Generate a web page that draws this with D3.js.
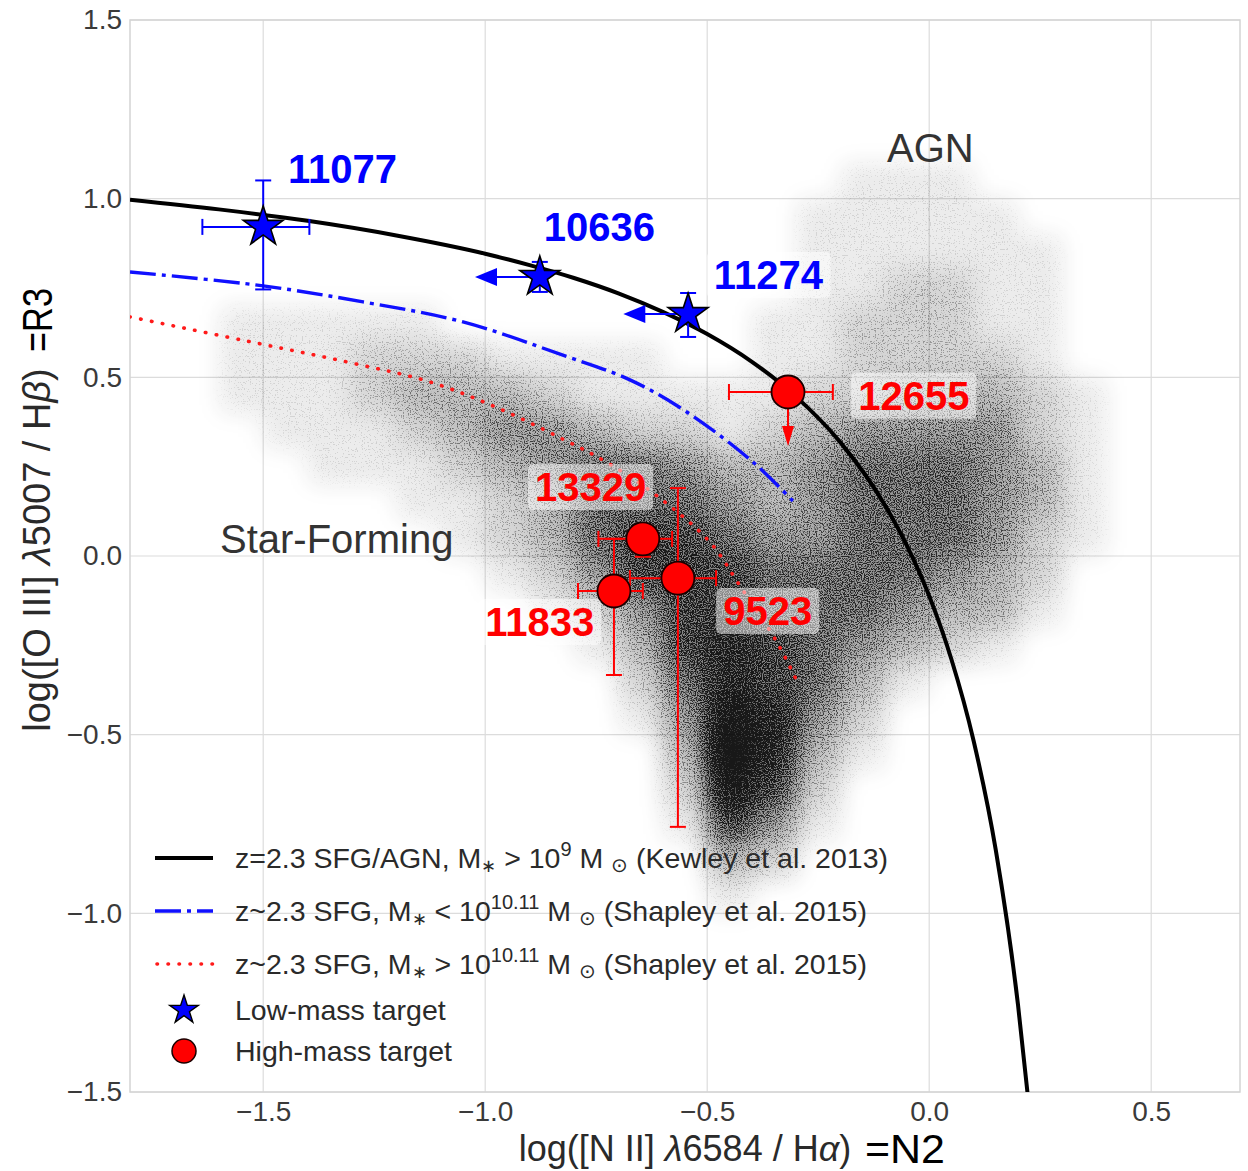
<!DOCTYPE html>
<html>
<head>
<meta charset="utf-8">
<script src="https://cdn.jsdelivr.net/npm/d3@7"></script>
<style>
body { margin: 0; background: #fff; }
text { font-family: "Liberation Sans", Arial, Helvetica, sans-serif; }
</style>
</head>
<body>
<svg id="chart" width="1248" height="1171"></svg>
<script>
var xTicks = [-1.5, -1.0, -0.5, 0.0, 0.5];
var yTicks = [-1.5, -1.0, -0.5, 0.0, 0.5, 1.0, 1.5];

// Kewley et al. 2013 boundary at z=2.3
var kewleyN2 = [-1.8, -1.6, -1.4, -1.2, -1.0, -0.9, -0.8, -0.7, -0.6, -0.5, -0.4, -0.3, -0.2, -0.1, -0.05, 0.0, 0.05, 0.1, 0.15, 0.2, 0.222];
var kewleyR3 = [0.997, 0.970, 0.938, 0.897, 0.846, 0.814, 0.778, 0.735, 0.683, 0.621, 0.544, 0.446, 0.318, 0.143, 0.028, -0.112, -0.289, -0.517, -0.823, -1.256, -1.509];

// Shapley et al. 2015, low mass (dash-dot)
var shapLowN2 = [-1.8, -1.5, -1.275, -1.05, -0.825, -0.674, -0.546, -0.397, -0.307];
var shapLowR3 = [0.795, 0.756, 0.711, 0.655, 0.562, 0.493, 0.403, 0.263, 0.154];

// Shapley et al. 2015, high mass (dotted)
var shapHighN2 = [-1.8, -1.5, -1.3, -1.124, -0.973, -0.825, -0.726, -0.613, -0.494, -0.426, -0.343, -0.298];
var shapHighR3 = [0.669, 0.592, 0.540, 0.487, 0.415, 0.327, 0.262, 0.168, 0.039, -0.084, -0.241, -0.350];

// low-mass targets (stars), x is an upper limit for 10636 and 11274
var lowNames = ["11077", "10636", "11274"];
var lowN2 = [-1.50, -0.877, -0.543];
var lowR3 = [0.921, 0.781, 0.677];
var lowN2ErrLo = [0.137, 0, 0];
var lowN2ErrHi = [0.104, 0, 0];
var lowR3ErrLo = [0.175, 0.042, 0.064];
var lowR3ErrHi = [0.130, 0.042, 0.059];
var lowN2Limit = [false, true, true];
var lowLabelN2 = [-1.444, -0.868, -0.485];
var lowLabelR3 = [1.044, 0.882, 0.747];

// high-mass targets (circles), y is an upper limit for 12655
var highNames = ["12655", "13329", "9523", "11833"];
var highN2 = [-0.318, -0.645, -0.566, -0.710];
var highR3 = [0.459, 0.048, -0.062, -0.098];
var highN2ErrLo = [0.133, 0.100, 0.108, 0.081];
var highN2ErrHi = [0.101, 0.066, 0.086, 0.065];
var highR3ErrLo = [0, 0.050, 0.696, 0.235];
var highR3ErrHi = [0, 0.035, 0.252, 0.146];
var highR3Limit = [true, false, false, false];
var highLabelN2 = [-0.160, -0.888, -0.464, -1.000];
var highLabelR3 = [0.409, 0.154, -0.193, -0.224];

// background galaxy cloud: relative density 0-9 per 0.1 x 0.1 cell
// first row is R3 in [1.0, 1.1], first column N2 in [-1.6, -1.5]
var cloudN2Start = -1.6, cloudR3Start = 1.1, cloudStep = 0.1;
var cloudRows = [
    "00000000000000111000",
    "00000000000001111100",
    "00000000000001111110",
    "00000000000001122110",
    "11111000000011222110",
    "11122211110011222210",
    "11123332111112233321",
    "01112344322123444421",
    "00111234554334555431",
    "00001123555434555431",
    "00000123566544555421",
    "00000012466655554320",
    "00000001246655543310",
    "00000000136765432100",
    "00000000025765310000",
    "00000000014874200000",
    "00000000003973100000",
    "00000000002862000000",
    "00000000001641000000",
    "00000000000320000000",
    "00000000000100000000"
];

var svg = d3.select('#chart');
var plotLeft = 130, plotRight = 1240, plotTop = 20, plotBottom = 1092;

var x = d3.scaleLinear().domain([-1.8, 0.7]).range([plotLeft, plotRight]);
var y = d3.scaleLinear().domain([-1.5, 1.5]).range([plotBottom, plotTop]);

var defs = svg.append('defs');
defs.append('clipPath').attr('id', 'plotClip')
    .append('rect').attr('x', plotLeft).attr('y', plotTop)
    .attr('width', plotRight - plotLeft).attr('height', plotBottom - plotTop);

// blurred density, dithered against a noise field so it reads as dots
var grain = defs.append('filter').attr('id', 'grain')
    .attr('filterUnits', 'userSpaceOnUse').attr('color-interpolation-filters', 'sRGB')
    .attr('x', plotLeft).attr('y', plotTop).attr('width', plotRight - plotLeft).attr('height', plotBottom - plotTop);
grain.append('feGaussianBlur').attr('in', 'SourceGraphic').attr('stdDeviation', 13).attr('result', 'blur');
grain.append('feTurbulence').attr('type', 'fractalNoise').attr('baseFrequency', 0.85)
    .attr('numOctaves', 1).attr('seed', 11).attr('result', 'noise');
grain.append('feColorMatrix').attr('in', 'noise').attr('type', 'matrix')
    .attr('values', '0 0 0 0 0  0 0 0 0 0  0 0 0 0 0  3.4 0 0 0 -1.2').attr('result', 'noiseA');
grain.append('feComposite').attr('in', 'blur').attr('in2', 'noiseA').attr('operator', 'arithmetic')
    .attr('k1', 0).attr('k2', 2.8).attr('k3', 2.2).attr('k4', -2.3).attr('result', 'dots');
grain.append('feComposite').attr('in', 'dots').attr('in2', 'blur').attr('operator', 'arithmetic')
    .attr('k1', 0).attr('k2', 0.5).attr('k3', 0.8).attr('k4', 0);

// grid
svg.append('g').selectAll('line').data(xTicks).enter().append('line')
    .attr('x1', function(d) { return x(d); }).attr('x2', function(d) { return x(d); })
    .attr('y1', plotTop).attr('y2', plotBottom)
    .attr('stroke', '#dcdcdc').attr('stroke-width', 1.2);
svg.append('g').selectAll('line').data(yTicks).enter().append('line')
    .attr('y1', function(d) { return y(d); }).attr('y2', function(d) { return y(d); })
    .attr('x1', plotLeft).attr('x2', plotRight)
    .attr('stroke', '#dcdcdc').attr('stroke-width', 1.2);
svg.append('rect').attr('x', plotLeft).attr('y', plotTop)
    .attr('width', plotRight - plotLeft).attr('height', plotBottom - plotTop)
    .attr('fill', 'none').attr('stroke', '#d4d4d4').attr('stroke-width', 1.5);

// cloud
var cells = [];
cloudRows.forEach(function(row, j)
{
    for(var i = 0; i < row.length; i++)
    {
        var v = +row[i];
        if(v > 0) cells.push({n2: cloudN2Start + i * cloudStep, r3: cloudR3Start - j * cloudStep, v: v});
    }
});
var cellW = x(cloudStep) - x(0), cellH = y(0) - y(cloudStep);
svg.append('g').attr('clip-path', 'url(#plotClip)')
  .append('g').attr('filter', 'url(#grain)').attr('opacity', 0.9)
    .selectAll('rect').data(cells).enter().append('rect')
    .attr('x', function(d) { return x(d.n2); })
    .attr('y', function(d) { return y(d.r3); })
    .attr('width', cellW + 0.5).attr('height', cellH + 0.5)
    .attr('fill', '#000')
    .attr('fill-opacity', function(d) { return Math.min(1, d.v / 9); });

// curves
var line = d3.line().x(function(d) { return x(d[0]); }).y(function(d) { return y(d[1]); });
var curves = svg.append('g').attr('clip-path', 'url(#plotClip)');
curves.append('path').datum(d3.zip(shapHighN2, shapHighR3))
    .attr('d', line.curve(d3.curveCatmullRom))
    .attr('fill', 'none').attr('stroke', '#ff1a1a').attr('stroke-width', 3.6)
    .attr('stroke-linecap', 'round').attr('stroke-dasharray', '0.5,10.5');
curves.append('path').datum(d3.zip(shapLowN2, shapLowR3))
    .attr('d', line.curve(d3.curveCatmullRom))
    .attr('fill', 'none').attr('stroke', '#1010ff').attr('stroke-width', 3.4)
    .attr('stroke-dasharray', '26,6,4,6');
curves.append('path').datum(d3.zip(kewleyN2, kewleyR3))
    .attr('d', line.curve(d3.curveMonotoneX))
    .attr('fill', 'none').attr('stroke', '#000').attr('stroke-width', 4);

// axes text
var xAxis = d3.axisBottom(x).tickValues(xTicks).tickFormat(d3.format('.1f')).tickSize(0).tickPadding(9);
var yAxis = d3.axisLeft(y).tickValues(yTicks).tickFormat(d3.format('.1f')).tickSize(0).tickPadding(8);
var gx = svg.append('g').attr('transform', 'translate(0,' + plotBottom + ')').call(xAxis);
var gy = svg.append('g').attr('transform', 'translate(' + plotLeft + ',0)').call(yAxis);
[gx, gy].forEach(function(g)
{
    g.select('.domain').remove();
    g.selectAll('text').attr('font-size', 28).attr('fill', '#3a3a3a')
        .attr('font-family', '"Liberation Sans", Arial, sans-serif');
});

var xl = svg.append('text').attr('x', (plotLeft + plotRight) / 2).attr('y', 1161)
    .attr('text-anchor', 'middle').attr('font-size', 36).attr('fill', '#2a2a2a');
xl.append('tspan').text('log([N II] ');
xl.append('tspan').attr('font-style', 'italic').text('λ');
xl.append('tspan').text('6584 / H');
xl.append('tspan').attr('font-style', 'italic').text('α');
xl.append('tspan').text(')');
svg.append('text').attr('x', 865).attr('y', 1163).attr('font-size', 40).attr('fill', '#000')
    .attr('textLength', 80).attr('lengthAdjust', 'spacingAndGlyphs').text('=N2');

var yl = svg.append('text').attr('transform', 'translate(50,550) rotate(-90)')
    .attr('text-anchor', 'middle').attr('font-size', 38).attr('fill', '#2a2a2a');
yl.append('tspan').text('log([O III] ');
yl.append('tspan').attr('font-style', 'italic').text('λ');
yl.append('tspan').text('5007 / H');
yl.append('tspan').attr('font-style', 'italic').text('β');
yl.append('tspan').text(')');
svg.append('text').attr('transform', 'translate(52,352) rotate(-90)').attr('font-size', 42).attr('fill', '#000')
    .attr('textLength', 64).attr('lengthAdjust', 'spacingAndGlyphs').text('=R3');

// region names
svg.append('text').attr('x', 887).attr('y', 162).attr('font-size', 40).attr('fill', '#333').text('AGN');
svg.append('text').attr('x', 220).attr('y', 553).attr('font-size', 40).attr('fill', '#333').text('Star-Forming');

// labels with translucent boxes
function addLabel(g, txt, n2, r3, color)
{
    var lg = g.append('g');
    var box = lg.append('rect');
    var t = lg.append('text').attr('x', x(n2)).attr('y', y(r3))
        .attr('font-size', 40).attr('font-weight', 'bold').attr('fill', color).text(txt);
    var bb = t.node().getBBox();
    box.attr('x', bb.x - 7).attr('y', bb.y - 1).attr('width', bb.width + 14).attr('height', bb.height + 2)
        .attr('rx', 5).attr('fill', '#fff').attr('fill-opacity', 0.5);
}

function errBars(g, cx, cy, xlo, xhi, ylo, yhi, color)
{
    var cap = 8;
    if(xlo > 0 || xhi > 0)
    {
        g.append('line').attr('x1', x(cx - xlo)).attr('x2', x(cx + xhi)).attr('y1', y(cy)).attr('y2', y(cy));
        g.append('line').attr('x1', x(cx - xlo)).attr('x2', x(cx - xlo)).attr('y1', y(cy) - cap).attr('y2', y(cy) + cap);
        g.append('line').attr('x1', x(cx + xhi)).attr('x2', x(cx + xhi)).attr('y1', y(cy) - cap).attr('y2', y(cy) + cap);
    }
    if(ylo > 0 || yhi > 0)
    {
        g.append('line').attr('x1', x(cx)).attr('x2', x(cx)).attr('y1', y(cy - ylo)).attr('y2', y(cy + yhi));
        g.append('line').attr('x1', x(cx) - cap).attr('x2', x(cx) + cap).attr('y1', y(cy - ylo)).attr('y2', y(cy - ylo));
        g.append('line').attr('x1', x(cx) - cap).attr('x2', x(cx) + cap).attr('y1', y(cy + yhi)).attr('y2', y(cy + yhi));
    }
    g.selectAll('line').attr('stroke', color).attr('stroke-width', 2);
}

var arrowLen = 0.146;
var starSym = d3.symbol().type(d3.symbolStar).size(21 * 21 / 0.8908);
var marks = svg.append('g');

// high-mass circles
highNames.forEach(function(name, i)
{
    var g = marks.append('g');
    errBars(g, highN2[i], highR3[i], highN2ErrLo[i], highN2ErrHi[i], highR3ErrLo[i], highR3ErrHi[i], '#ff0000');
    if(highR3Limit[i])
    {
        var px = x(highN2[i]), tip = y(highR3[i] - 0.151);
        g.append('line').attr('x1', px).attr('x2', px).attr('y1', y(highR3[i])).attr('y2', tip - 16)
            .attr('stroke', '#ff0000').attr('stroke-width', 2);
        g.append('path').attr('d', 'M' + (px - 6) + ',' + (tip - 20) + 'L' + (px + 6) + ',' + (tip - 20) + 'L' + px + ',' + tip + 'Z')
            .attr('fill', '#ff0000');
    }
    g.append('circle').attr('cx', x(highN2[i])).attr('cy', y(highR3[i])).attr('r', 16.5)
        .attr('fill', '#ff0000').attr('stroke', '#1a0000').attr('stroke-width', 1.8);
});

// low-mass stars
lowNames.forEach(function(name, i)
{
    var g = marks.append('g');
    errBars(g, lowN2[i], lowR3[i], lowN2ErrLo[i], lowN2ErrHi[i], lowR3ErrLo[i], lowR3ErrHi[i], '#0000ff');
    if(lowN2Limit[i])
    {
        var py = y(lowR3[i]), tip = x(lowN2[i] - arrowLen);
        g.append('line').attr('x1', x(lowN2[i])).attr('x2', tip + 18).attr('y1', py).attr('y2', py)
            .attr('stroke', '#0000ff').attr('stroke-width', 2);
        g.append('path').attr('d', 'M' + (tip + 22) + ',' + (py - 9) + 'L' + (tip + 22) + ',' + (py + 9) + 'L' + tip + ',' + py + 'Z')
            .attr('fill', '#0000ff');
    }
    g.append('path').attr('d', starSym)
        .attr('transform', 'translate(' + x(lowN2[i]) + ',' + y(lowR3[i]) + ')')
        .attr('fill', '#0000ff').attr('stroke', '#000').attr('stroke-width', 1.6);
});

var labels = svg.append('g');
lowNames.forEach(function(name, i) { addLabel(labels, name, lowLabelN2[i], lowLabelR3[i], '#0000ff'); });
highNames.forEach(function(name, i) { addLabel(labels, name, highLabelN2[i], highLabelR3[i], '#ff0000'); });

// legend
var legendItems = [
    {kind: 'solid', parts: [['z=2.3 SFG/AGN, M'], ['∗', 'sub'], [' > 10'], ['9', 'sup'], [' M '], ['⊙', 'sub'], [' (Kewley et al. 2013)']]},
    {kind: 'dashdot', parts: [['z~2.3 SFG, M'], ['∗', 'sub'], [' < 10'], ['10.11', 'sup'], [' M '], ['⊙', 'sub'], [' (Shapley et al. 2015)']]},
    {kind: 'dot', parts: [['z~2.3 SFG, M'], ['∗', 'sub'], [' > 10'], ['10.11', 'sup'], [' M '], ['⊙', 'sub'], [' (Shapley et al. 2015)']]},
    {kind: 'star', parts: [['Low-mass target']]},
    {kind: 'circle', parts: [['High-mass target']]}
];
var legendRowY = [858, 911, 964, 1010, 1051];
var legend = svg.append('g');
legendItems.forEach(function(item, i)
{
    var cy = legendRowY[i];
    if(item.kind == 'solid')
        legend.append('line').attr('x1', 155).attr('x2', 213).attr('y1', cy).attr('y2', cy)
            .attr('stroke', '#000').attr('stroke-width', 4);
    else if(item.kind == 'dashdot')
        legend.append('line').attr('x1', 155).attr('x2', 213).attr('y1', cy).attr('y2', cy)
            .attr('stroke', '#1010ff').attr('stroke-width', 3.4).attr('stroke-dasharray', '26,6,4,6');
    else if(item.kind == 'dot')
        legend.append('line').attr('x1', 157).attr('x2', 213).attr('y1', cy).attr('y2', cy)
            .attr('stroke', '#ff1a1a').attr('stroke-width', 3.6).attr('stroke-linecap', 'round').attr('stroke-dasharray', '0.5,10.5');
    else if(item.kind == 'star')
        legend.append('path').attr('d', d3.symbol().type(d3.symbolStar).size(15 * 15 / 0.8908))
            .attr('transform', 'translate(184,' + cy + ')')
            .attr('fill', '#0000ff').attr('stroke', '#000').attr('stroke-width', 1.4);
    else
        legend.append('circle').attr('cx', 184).attr('cy', cy).attr('r', 12)
            .attr('fill', '#ff0000').attr('stroke', '#1a0000').attr('stroke-width', 1.5);

    var t = legend.append('text').attr('x', 235).attr('y', cy + 10).attr('font-size', 28.5).attr('fill', '#2a2a2a');
    var shift = 0;
    item.parts.forEach(function(p)
    {
        var want = p[1] == 'sup' ? -12 : (p[1] == 'sub' ? 4 : 0);
        var s = t.append('tspan').attr('dy', want - shift).text(p[0]);
        if(p[1]) s.attr('font-size', p[0] == '∗' ? 18 : 20);
        shift = want;
    });
});
</script>
</body>
</html>
